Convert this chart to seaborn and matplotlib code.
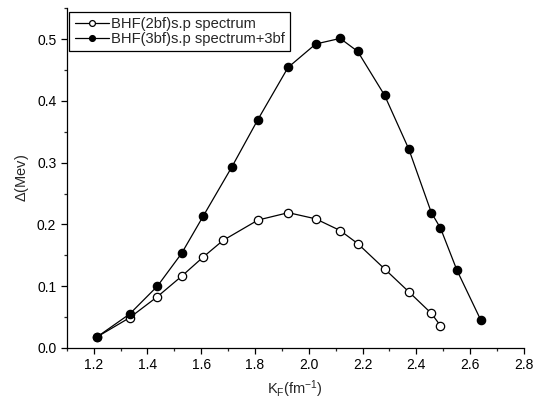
import matplotlib
matplotlib.use('Agg')
import matplotlib.pyplot as plt
from matplotlib.ticker import MultipleLocator
import seaborn as sns
import pandas as pd

# ===== DATA =====
kf_2bf = [1.213, 1.334, 1.437, 1.527, 1.607, 1.681, 1.811, 1.924,
          2.026, 2.117, 2.182, 2.282, 2.372, 2.456, 2.490]
gap_2bf = [0.018, 0.049, 0.083, 0.116, 0.147, 0.174, 0.207, 0.219,
           0.209, 0.190, 0.169, 0.128, 0.091, 0.056, 0.036]

kf_3bf = [1.213, 1.334, 1.437, 1.527, 1.607, 1.714, 1.810, 1.923,
          2.026, 2.117, 2.182, 2.282, 2.372, 2.456, 2.490, 2.551, 2.640]
gap_3bf = [0.018, 0.055, 0.100, 0.153, 0.213, 0.293, 0.369, 0.454,
           0.492, 0.501, 0.480, 0.409, 0.322, 0.219, 0.194, 0.126, 0.045]

label_2bf = 'BHF(2bf)s.p spectrum'
label_3bf = 'BHF(3bf)s.p spectrum+3bf'

df_2bf = pd.DataFrame({'kF': kf_2bf, 'gap': gap_2bf})
df_3bf = pd.DataFrame({'kF': kf_3bf, 'gap': gap_3bf})

# ===== STYLE =====
sns.set_style("ticks")
plt.rcParams['font.family'] = ['Liberation Sans', 'DejaVu Sans']
plt.rcParams['mathtext.fontset'] = 'custom'
plt.rcParams['mathtext.rm'] = 'Liberation Sans'
plt.rcParams['mathtext.it'] = 'Liberation Sans'

fig = plt.figure(figsize=(5.34, 4.07), dpi=100)
ax = fig.add_axes([0.125, 0.145, 0.856, 0.835])

sns.lineplot(data=df_2bf, x='kF', y='gap', ax=ax, sort=False,
             color='black', linewidth=0.9, marker='o', markersize=6,
             markerfacecolor='white', markeredgecolor='black',
             markeredgewidth=0.9, label=label_2bf)
sns.lineplot(data=df_3bf, x='kF', y='gap', ax=ax, sort=False,
             color='black', linewidth=0.9, marker='o', markersize=6,
             markerfacecolor='black', markeredgecolor='black',
             markeredgewidth=0.9, label=label_3bf)

ax.set_xlim(1.1, 2.8)
ax.set_ylim(0.0, 0.55)
ax.xaxis.set_major_locator(MultipleLocator(0.2))
ax.xaxis.set_minor_locator(MultipleLocator(0.1))
ax.yaxis.set_major_locator(MultipleLocator(0.1))
ax.yaxis.set_minor_locator(MultipleLocator(0.05))
ax.xaxis.set_major_formatter(plt.FormatStrFormatter('%.1f'))
ax.yaxis.set_major_formatter(plt.FormatStrFormatter('%.1f'))
ax.tick_params(which='major', direction='out', length=4, width=0.9,
               labelsize=10, colors='black')
ax.tick_params(which='minor', direction='out', length=2.5, width=0.9)

sns.despine(ax=ax)
for side in ['left', 'bottom']:
    ax.spines[side].set_linewidth(0.9)
    ax.spines[side].set_color('black')

ax.set_xlabel(r'K$_\mathrm{F}$(fm$^{-1}$)', fontsize=10.5)
ax.set_ylabel(r'$\Delta$(Mev)', fontsize=10.5)

leg = ax.legend(loc='upper left', bbox_to_anchor=(0.006, 0.99),
                borderaxespad=0, frameon=True, fancybox=False,
                edgecolor='black', fontsize=10.6, handlelength=2.3,
                handletextpad=0.15, borderpad=0.35, labelspacing=0.1,
                markerscale=0.7)
leg.get_frame().set_linewidth(0.9)
leg.get_frame().set_alpha(1)

plt.savefig('out.png', dpi=100)
plt.close()
